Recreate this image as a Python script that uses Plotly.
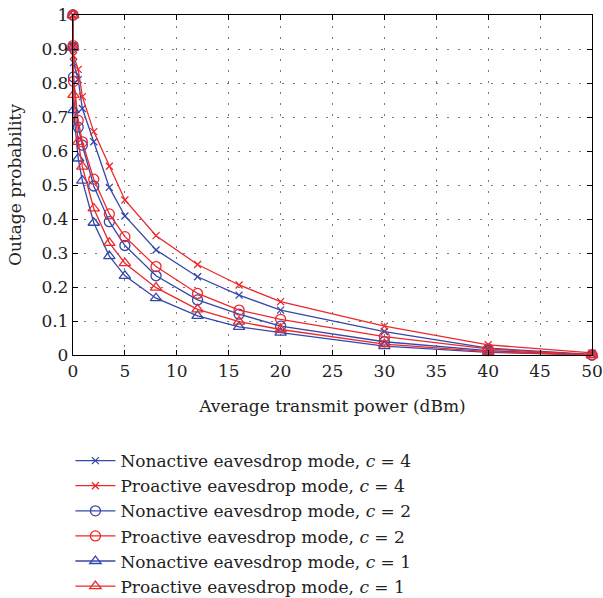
import plotly.graph_objects as go

x_power = [0, 0.01, 0.05, 0.5, 0.9, 2, 3.5, 5, 8, 12, 16, 20, 30, 40, 50]

non_c4 = [1, 0.905, 0.86, 0.81, 0.725, 0.627, 0.493, 0.409, 0.309, 0.23, 0.176, 0.132, 0.069, 0.02, 0.002]
pro_c4 = [1, 0.91, 0.88, 0.84, 0.76, 0.657, 0.555, 0.456, 0.351, 0.266, 0.206, 0.157, 0.085, 0.03, 0.006]
non_c2 = [1, 0.905, 0.818, 0.67, 0.617, 0.497, 0.392, 0.322, 0.233, 0.162, 0.12, 0.085, 0.039, 0.013, 0.0]
pro_c2 = [1, 0.91, 0.805, 0.69, 0.627, 0.517, 0.415, 0.348, 0.26, 0.181, 0.132, 0.105, 0.054, 0.018, 0.0]
non_c1 = [1, 0.905, 0.72, 0.578, 0.513, 0.389, 0.291, 0.233, 0.167, 0.115, 0.083, 0.066, 0.026, 0.008, 0.0]
pro_c1 = [1, 0.905, 0.765, 0.627, 0.554, 0.431, 0.33, 0.27, 0.198, 0.134, 0.098, 0.075, 0.032, 0.01, 0.0]

names = [
    "Nonactive eavesdrop mode, <i>c</i> = 4",
    "Proactive eavesdrop mode, <i>c</i> = 4",
    "Nonactive eavesdrop mode, <i>c</i> = 2",
    "Proactive eavesdrop mode, <i>c</i> = 2",
    "Nonactive eavesdrop mode, <i>c</i> = 1",
    "Proactive eavesdrop mode, <i>c</i> = 1",
]
series = [non_c4, pro_c4, non_c2, pro_c2, non_c1, pro_c1]

BLUE = "rgb(52,72,170)"
RED = "rgb(236,40,44)"
colors = [BLUE, RED, BLUE, RED, BLUE, RED]
symbols = ["x-thin-open", "x-thin-open", "circle-open", "circle-open",
           "triangle-up-open", "triangle-up-open"]
sizes = [7, 7, 10, 10, 10, 10]

fig = go.Figure()
for nm, ys, c, s, sz in zip(names, series, colors, symbols, sizes):
    fig.add_trace(go.Scatter(
        x=x_power, y=ys, name=nm, mode="lines+markers", cliponaxis=False,
        line=dict(color=c, width=1.3),
        marker=dict(symbol=s, size=sz, color=c, line=dict(color=c, width=1.3)),
    ))

FONT = "DejaVu Serif"
TXT = "#222"
axis_common = dict(
    showline=True, linecolor="black", linewidth=1.3, mirror="ticks",
    ticks="inside", ticklen=5, tickcolor="black", tickwidth=1,
    showgrid=True, gridcolor="rgb(120,120,120)", griddash="2px,9px", gridwidth=1,
    zeroline=False, ticklabeloverflow="allow",
    tickfont=dict(family=FONT, size=17, color=TXT),
)

fig.update_layout(
    width=603, height=598,
    margin=dict(l=73, r=11, t=15, b=243, autoexpand=False),
    paper_bgcolor="white", plot_bgcolor="white",
    font=dict(family=FONT, size=17, color=TXT),
    xaxis=dict(range=[0, 50], dtick=5, title=dict(text="Average transmit power (dBm)",
               font=dict(family=FONT, size=17, color=TXT), standoff=20), **axis_common),
    yaxis=dict(range=[0, 1], dtick=0.1, title=dict(text="Outage probability",
               font=dict(family=FONT, size=17, color=TXT)), **axis_common),
    legend=dict(x=-0.005, y=-0.259, xanchor="left", yanchor="top",
                bgcolor="rgba(0,0,0,0)", font=dict(family=FONT, size=17, color=TXT),
                itemwidth=40, tracegroupgap=0),
    showlegend=True,
)

fig.write_html("out.html", config={"displayModeBar": False},
               post_script="document.body.style.margin='0';")
